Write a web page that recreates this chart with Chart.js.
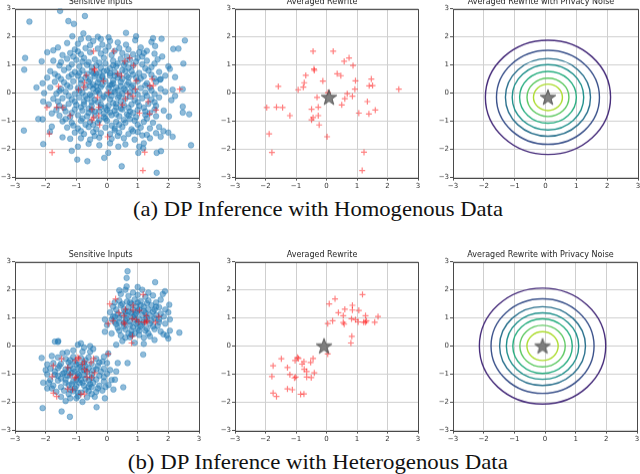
<!DOCTYPE html>
<html lang="en">
<head>
<meta charset="UTF-8">
<title>DP Inference</title>
<script src="https://cdn.jsdelivr.net/npm/chart.js"></script>
<style>
  body { margin: 0; background: #fff; width: 640px; height: 474px; overflow: hidden; position: relative; }
  .panel { position: absolute; }
  .caption { position: absolute; left: 0; width: 636px; text-align: center; font-family: "Liberation Serif", serif; font-size: 21px; line-height: 23px; color: #111; white-space: nowrap; }
  .caption span { display: inline-block; transform-origin: center; }
</style>
</head>
<body>
<div class="caption" id="capA" style="top:198px"><span>(a) DP Inference with Homogenous Data</span></div>
<div class="caption" id="capB" style="top:451px"><span>(b) DP Inference with Heterogenous Data</span></div>

<script>
// ---- data ----
const tickValues = [-3, -2, -1, 0, 1, 2, 3];
const titles = ['Sensitive Inputs', 'Averaged Rewrite', 'Averaged Rewrite with Privacy Noise'];

// (a) homogenous: sensitive inputs
const blueHomog = [
  [-1.53,2.92],[-2.53,2.54],[-0.72,2.74],[-1.26,2.56],[-1.08,2.46],[0.62,2.14],[-1.13,2.02],[-0.77,2.12],
  [2.54,1.87],[2.16,1.57],[2.33,1.58],[1.57,1.67],[1.78,1.93],[-1.75,1.52],[-2.67,1.25],[-2.13,1.13],
  [-2.70,0.83],[2.49,1.05],[2.05,0.86],[2.22,0.57],[1.73,0.48],[2.14,0.12],[2.47,0.14],[2.22,-0.10],
  [2.47,-0.48],[2.68,-0.75],[2.47,-0.69],[2.02,-0.83],[-2.08,-0.30],[-2.24,-0.92],[-2.10,-0.93],[-2.71,-1.33],
  [-2.08,-1.81],[-1.80,-1.19],[-1.86,-1.37],[-1.45,-1.57],[-1.15,-2.05],[-0.97,-2.36],[-0.64,-2.42],[-0.09,-2.30],
  [0.04,-2.12],[0.48,-2.60],[1.62,-2.12],[1.76,-2.06],[1.05,-1.90],[1.18,-1.96],[2.14,-1.55],[2.74,-1.85],
  [1.62,-2.83],[0.37,-1.90],[1.02,-2.12],[2.00,-1.40],[1.84,-1.35],
  [-0.6,1.95],[-0.3,2.0],[0.05,1.98],[-0.85,1.92],[0.95,2.02],[1.5,1.95],
  [-1.3,1.78],[-0.45,1.85],[-0.2,1.92],[0.1,1.85],[0.35,1.8],[0.92,1.88],[1.45,1.82],[-0.95,1.75],
  [-1.6,1.62],[-1.05,1.55],[-0.7,1.6],[-0.3,1.58],[0.05,1.65],[0.4,1.6],[0.7,1.55],[1.1,1.62],[1.3,1.5],[-1.95,1.45],
  [-1.45,1.35],[-1.2,1.42],[-0.85,1.38],[-0.55,1.45],[-0.2,1.4],[0.15,1.35],[0.5,1.42],[0.85,1.38],[1.15,1.3],[1.55,1.4],[1.8,1.3],[-0.05,1.5],
  [-1.75,1.15],[-1.3,1.22],[-1.0,1.18],[-0.75,1.25],[-0.4,1.2],[-0.1,1.25],[0.2,1.15],[0.45,1.22],[0.75,1.18],[1.0,1.25],[1.3,1.15],[1.65,1.2],[-0.6,1.1],[0.6,1.08],
  [-1.55,0.98],[-1.15,1.02],[-0.9,0.95],[-0.65,1.0],[-0.35,0.98],[-0.05,1.05],[0.3,0.95],[0.55,1.0],[0.85,0.98],[1.15,1.02],[1.45,0.92],[2.0,0.95],[-0.2,0.9],[0.1,0.88],
  [-1.85,0.78],[-1.4,0.82],[-1.05,0.75],[-0.8,0.8],[-0.5,0.78],[-0.25,0.72],[0.0,0.8],[0.25,0.75],[0.5,0.82],[0.8,0.78],[1.05,0.72],[1.35,0.8],[1.7,0.75],[-0.65,0.68],[0.4,0.65],
  [-1.95,0.55],[-1.6,0.6],[-1.25,0.58],[-0.95,0.62],[-0.7,0.55],[-0.4,0.6],[-0.15,0.55],[0.1,0.62],[0.35,0.55],[0.65,0.6],[0.95,0.55],[1.2,0.6],[1.55,0.52],[1.9,0.62],[-0.55,0.48],[0.2,0.45],
  [-2.1,0.35],[-1.7,0.4],[-1.4,0.38],[-1.1,0.42],[-0.85,0.35],[-0.6,0.4],[-0.3,0.38],[-0.05,0.42],[0.2,0.35],[0.45,0.4],[0.7,0.38],[1.0,0.42],[1.3,0.35],[1.6,0.4],[-0.45,0.3],[0.85,0.28],
  [-1.85,0.2],[-1.5,0.15],[-1.2,0.22],[-0.95,0.18],[-0.7,0.2],[-0.45,0.15],[-0.2,0.22],[0.05,0.18],[0.3,0.2],[0.55,0.15],[0.8,0.22],[1.1,0.18],[1.4,0.2],[1.75,0.15],[-0.3,0.1],[0.15,0.05],
  [-2.05,0.0],[-1.65,-0.02],[-1.35,0.05],[-1.05,-0.03],[-0.8,0.02],[-0.55,-0.05],[-0.25,0.0],[0.0,-0.03],[0.25,0.05],[0.5,-0.02],[0.75,0.03],[1.0,-0.05],[1.25,0.02],[1.55,-0.03],[1.9,0.05],[-0.1,-0.12],[0.4,-0.1],
  [-1.75,-0.2],[-1.45,-0.18],[-1.15,-0.22],[-0.9,-0.15],[-0.65,-0.2],[-0.4,-0.25],[-0.15,-0.18],[0.1,-0.22],[0.35,-0.15],[0.6,-0.2],[0.9,-0.25],[1.15,-0.18],[1.45,-0.22],[1.7,-0.15],[-0.3,-0.32],[0.2,-0.35],
  [-1.9,-0.4],[-1.55,-0.45],[-1.25,-0.38],[-1.0,-0.42],[-0.75,-0.4],[-0.5,-0.45],[-0.2,-0.4],[0.05,-0.45],[0.3,-0.38],[0.55,-0.42],[0.8,-0.4],[1.05,-0.45],[1.35,-0.38],[1.6,-0.45],[-0.6,-0.55],[0.45,-0.55],
  [-1.65,-0.6],[-1.35,-0.65],[-1.05,-0.58],[-0.8,-0.62],[-0.5,-0.6],[-0.25,-0.65],[0.0,-0.6],[0.25,-0.62],[0.5,-0.58],[0.75,-0.65],[1.0,-0.6],[1.25,-0.65],[1.55,-0.58],[1.85,-0.62],[-0.1,-0.72],[0.65,-0.75],
  [-1.55,-0.8],[-1.2,-0.85],[-0.95,-0.78],[-0.65,-0.82],[-0.4,-0.8],[-0.1,-0.85],[0.15,-0.78],[0.4,-0.82],[0.7,-0.8],[0.95,-0.85],[1.25,-0.78],[1.6,-0.82],[-0.25,-0.95],[0.55,-0.95],
  [-1.45,-1.0],[-1.15,-1.05],[-0.85,-0.98],[-0.55,-1.02],[-0.3,-1.05],[0.0,-0.98],[0.3,-1.02],[0.6,-1.05],[0.9,-0.98],[1.2,-1.02],[1.5,-1.05],[-0.7,-1.12],[0.15,-1.15],
  [-1.3,-1.22],[-0.95,-1.25],[-0.6,-1.2],[-0.35,-1.28],[-0.05,-1.22],[0.25,-1.25],[0.5,-1.2],[0.8,-1.28],[1.1,-1.22],[1.4,-1.25],[1.7,-1.2],
  [-1.05,-1.4],[-0.75,-1.45],[-0.45,-1.38],[-0.2,-1.42],[0.1,-1.45],[0.4,-1.4],[0.7,-1.45],[1.0,-1.38],[1.3,-1.48],[1.6,-1.42],
  [-1.2,-1.62],[-0.85,-1.6],[-0.55,-1.65],[-0.25,-1.58],[0.15,-1.62],[0.55,-1.6],[0.9,-1.65],[1.4,-1.6],[1.75,-1.55],
  [-0.6,-1.8],[-0.25,-1.85],[0.1,-1.78],[0.6,-1.82],[1.2,-1.78],[-0.95,-1.9],
  [-0.35,0.25],[0.15,0.3],[-0.5,-0.1],[0.6,0.1],[-0.15,0.6],[0.3,-0.5],[-0.45,0.7],[0.7,0.55],[-0.75,-0.3],[0.1,0.7],[-0.2,-0.5],[0.45,0.25],
  [-0.95,1.48],[-0.15,1.72],[0.62,1.72],[1.05,1.45],[-1.5,1.1],[-0.25,1.08],[0.35,1.05],[0.95,1.12],[1.55,1.05],
  [-1.25,0.9],[-0.5,0.92],[0.2,0.98],[0.7,0.9],[1.25,0.88],[-1.7,0.68],[-1.15,0.66],[-0.35,0.68],[0.25,0.62],[0.85,0.66],[1.45,0.65],
  [-1.5,0.5],[-0.85,0.48],[-0.25,0.48],[0.5,0.5],[1.1,0.52],[1.75,0.5],[-1.3,0.28],[-0.55,0.25],[0.1,0.28],[0.65,0.3],[1.25,0.28],[-2.3,0.2],
  [-1.55,0.08],[-0.9,0.08],[-0.35,0.05],[0.35,0.1],[0.9,0.08],[1.45,0.1],[2.1,-0.25],[-1.25,-0.1],[-0.7,-0.1],[0.15,-0.1],[0.75,-0.12],[1.3,-0.1],
  [-1.6,-0.3],[-1.05,-0.3],[-0.5,-0.32],[0.45,-0.3],[1.0,-0.32],[1.55,-0.32],[-1.4,-0.52],[-0.85,-0.5],[-0.05,-0.52],[0.7,-0.52],[1.2,-0.52],
  [-1.8,-0.72],[-1.15,-0.7],[-0.6,-0.7],[0.1,-0.68],[0.85,-0.7],[1.4,-0.7],[-1.35,-0.92],[-0.8,-0.9],[-0.05,-0.9],[0.75,-0.92],[1.3,-0.9],
  [-1.1,-1.15],[-0.45,-1.12],[0.4,-1.12],[1.0,-1.12],[-0.85,-1.35],[0.25,-1.32],[0.85,-1.35],[-0.4,-1.52],[0.35,-1.52],[1.15,-1.5],
  [-0.55,1.7],[0.25,1.5],[-1.1,1.3],[0.65,1.3],[-0.8,1.12],[1.2,1.42],[-0.1,0.78],[0.6,0.78],[-0.9,0.72],[-0.15,0.3],[0.3,-0.75],[-0.4,-0.65]
];
// (a) homogenous: rewrites (red crosses)
const redHomog = [
  [-0.44,1.49],[0.22,1.49],[0.74,1.25],[0.58,1.13],[0.87,0.98],[-0.41,0.86],[-0.40,0.81],[-0.68,0.63],
  [0.35,0.69],[0.47,0.62],[-0.12,0.43],[-0.73,0.37],[0.95,0.44],[1.47,0.50],[-1.58,0.24],[-0.76,0.21],
  [-0.93,0.12],[1.40,0.26],[1.51,0.27],[2.37,0.14],[0.93,0.14],[0.05,0.02],[0.68,-0.02],[0.60,-0.20],
  [0.85,-0.11],[-0.31,-0.15],[1.34,-0.30],[-1.96,-0.51],[-1.64,-0.50],[-1.44,-0.51],[-0.27,-0.50],[0.50,-0.42],
  [-0.49,-0.57],[1.60,-0.60],[-1.20,-0.80],[-0.27,-0.80],[1.06,-0.71],[1.39,-0.74],[-0.44,-0.87],[-0.49,-0.95],
  [-0.24,-1.13],[-1.88,-1.45],[0.02,-1.55],[-1.79,-2.11],[1.23,-2.10],[1.17,-2.75]
];
const starHomog = [[0.08, -0.15]];
const ringRadiiHomog = [2.03, 1.67, 1.38, 1.16, 0.92, 0.68, 0.47];

// (b) heterogenous: sensitive inputs
const blueHetero = [
  // upper-right cluster
  [0.7,1.78],[1.0,1.82],[1.25,1.75],[1.5,1.8],[0.85,1.9],[1.15,2.0],[0.6,2.0],
  [0.4,1.62],[0.65,1.58],[0.9,1.65],[1.1,1.6],[1.35,1.62],[1.6,1.55],[1.75,1.65],[0.25,1.55],
  [0.2,1.4],[0.45,1.45],[0.7,1.38],[0.95,1.42],[1.2,1.4],[1.45,1.45],[1.7,1.38],[0.55,1.3],[1.05,1.3],
  [0.1,1.2],[0.35,1.15],[0.6,1.22],[0.8,1.18],[1.0,1.25],[1.25,1.18],[1.5,1.22],[1.75,1.15],[2.0,1.2],[0.5,1.1],[1.15,1.1],
  [0.15,0.95],[0.4,1.0],[0.65,0.98],[0.85,1.05],[1.05,0.95],[1.3,1.02],[1.55,0.98],[1.85,1.05],[2.05,0.95],[0.75,0.88],[1.2,0.85],
  [0.3,0.78],[0.55,0.82],[0.75,0.75],[0.95,0.8],[1.15,0.75],[1.4,0.8],[1.65,0.72],[1.9,0.8],[0.85,0.68],[1.3,0.62],
  [0.4,0.55],[0.6,0.6],[0.8,0.55],[1.0,0.62],[1.25,0.55],[1.55,0.6],[1.75,0.52],[2.05,0.55],[0.7,0.45],
  [0.15,0.45],[0.45,0.38],[0.75,0.32],[1.05,0.4],[1.4,0.35],[1.95,0.38],
  [0.5,0.18],[0.9,0.12],[1.2,0.08],[0.3,0.05],[1.55,0.22],
  [0.95,1.15],[1.1,1.45],[0.85,1.3],[1.35,1.3],[0.65,1.1],[1.45,0.9],[0.55,0.7],[1.6,1.4],[1.1,0.7],[0.9,0.95],[1.25,0.95],[0.75,1.55],
  [0.8,1.5],[1.3,1.52],[0.5,1.5],[1.55,1.3],[0.3,1.3],[0.9,1.1],[1.4,1.1],[0.2,1.05],[1.7,0.95],[0.6,0.9],
  [1.0,0.85],[1.5,0.7],[0.35,0.65],[0.9,0.45],[1.2,0.3],[0.6,0.3],[1.7,0.85],[1.9,1.3],[0.45,1.85],[1.35,1.9],
  [1.0,1.55],[0.7,1.22],[1.2,1.25],[0.25,0.85],[1.6,1.1],[1.05,0.55],[0.4,0.85],[0.8,0.4],[1.35,0.45],[1.0,2.1],
  [0.67,2.66],[0.64,2.42],[0.64,2.12],[1.57,2.27],[1.89,1.95],[1.82,1.85],[2.03,1.47],[2.36,0.48],
  [2.0,0.27],[1.84,0.42],[1.18,-0.30],[0.67,-0.60],[0.0,0.75],[0.26,1.05],[-0.07,0.95],[-0.07,0.51],[0.4,1.98],
  // lower-left cluster
  [-1.1,-0.15],[-0.75,-0.05],[-0.45,-0.1],[-0.95,0.05],[-0.55,-0.2],[-1.3,-0.22],[-1.6,0.15],
  [-1.6,-0.4],[-1.35,-0.45],[-1.1,-0.38],[-0.85,-0.42],[-0.6,-0.4],[-0.35,-0.45],[-0.1,-0.38],[-1.8,-0.35],
  [-1.75,-0.6],[-1.5,-0.62],[-1.25,-0.58],[-1.0,-0.65],[-0.75,-0.6],[-0.5,-0.62],[-0.25,-0.58],[0.0,-0.6],[-1.95,-0.65],
  [-1.85,-0.8],[-1.6,-0.78],[-1.35,-0.82],[-1.1,-0.8],[-0.85,-0.85],[-0.6,-0.78],[-0.35,-0.82],[-0.1,-0.8],[0.1,-0.85],[-1.2,-0.7],[-0.7,-0.7],
  [-1.95,-1.0],[-1.7,-1.02],[-1.45,-0.98],[-1.2,-1.05],[-0.95,-0.98],[-0.75,-1.02],[-0.5,-1.0],[-0.25,-1.05],[0.0,-0.98],[-1.05,-0.9],[-0.65,-0.92],
  [-1.85,-1.2],[-1.6,-1.22],[-1.35,-1.18],[-1.1,-1.25],[-0.85,-1.2],[-0.6,-1.22],[-0.35,-1.18],[-0.1,-1.25],[0.15,-1.2],[-0.95,-1.1],[-0.5,-1.12],
  [-1.75,-1.4],[-1.5,-1.45],[-1.25,-1.38],[-1.0,-1.42],[-0.75,-1.4],[-0.5,-1.45],[-0.25,-1.4],[0.05,-1.38],[-0.9,-1.3],
  [-1.65,-1.62],[-1.4,-1.58],[-1.1,-1.6],[-0.85,-1.65],[-0.6,-1.6],[-0.35,-1.62],[-0.15,-1.58],
  [-1.5,-1.8],[-1.2,-1.85],[-0.95,-1.78],[-0.65,-1.82],[-0.4,-1.8],[-1.35,-1.95],[-0.8,-1.98],
  [-1.0,-1.2],[-1.15,-0.95],[-0.8,-1.3],[-1.3,-1.05],[-0.7,-1.15],[-0.9,-0.75],[-1.05,-1.5],[-1.5,-1.15],[-0.45,-0.85],[-1.25,-0.85],[-0.6,-1.45],[-0.95,-1.65],
  [-1.2,-0.5],[-0.7,-0.5],[-1.55,-0.7],[-0.3,-0.7],[-1.7,-0.9],[-0.9,-0.65],[-0.2,-0.9],[-1.35,-1.3],[-0.45,-1.3],[-0.1,-1.1],
  [-1.6,-1.05],[-1.15,-1.35],[-0.7,-1.55],[-1.25,-1.7],[-0.5,-1.7],[-1.8,-1.5],[-0.3,-1.5],[-1.0,-1.85],[-0.15,-0.55],[-0.8,-0.2],
  [-1.45,-0.25],[-2.0,-0.85],[-1.9,-1.3],[-0.05,-1.45],[-1.05,-0.55],[-0.55,-1.35],[-1.4,-0.95],[-0.75,-0.85],[-1.2,-1.55],[-0.9,-1.05],
  [-1.59,0.18],[-1.70,0.16],[-2.13,-0.42],[-2.10,-2.20],[-1.21,-2.51],[-1.48,-2.32],[-2.08,-1.30],[0.04,-0.26],
  [0.53,-1.46],[0.26,-1.19],[0.21,-1.54],[-0.07,-1.85],[-0.34,-2.17],[-0.55,0.0],[-0.85,0.1],[-1.95,-1.5],[0.3,-0.9],[0.35,-0.6]
];
// (b) heterogenous: rewrites (red crosses)
const redHetero = [
  [1.18,1.83],[0.28,1.68],[0.09,1.50],[0.39,1.19],[0.60,1.31],[0.85,1.45],[1.06,1.27],[0.85,1.28],
  [0.55,1.08],[1.28,1.08],[1.69,1.05],[0.82,0.97],[0.95,0.94],[1.04,0.86],[1.22,0.85],[1.31,0.90],
  [1.28,0.85],[1.58,0.85],[0.55,0.84],[0.58,0.78],[0.20,0.90],[0.04,0.80],[0.83,0.35],[0.80,0.11],
  [0.04,-0.28],[-0.44,-0.44],[-0.95,-0.40],[-0.92,-0.44],[-1.48,-0.45],[-1.03,-0.51],[-0.74,-0.55],[-0.80,-0.64],
  [-0.52,-0.58],[-1.75,-0.70],[-1.28,-0.76],[-0.73,-0.82],[-0.65,-0.90],[-0.40,-0.95],[-1.20,-1.01],[-1.79,-1.08],
  [-1.01,-1.10],[-1.05,-1.13],[-0.65,-1.10],[-0.50,-1.12],[-1.28,-1.52],[-1.12,-1.55],[-1.75,-1.67],[-1.64,-1.79],
  [-0.85,-1.71],[-0.74,-1.70]
];
const starHetero = [[-0.08, 0.0]];
const ringRadiiHetero = [2.06, 1.68, 1.40, 1.18, 0.97, 0.74, 0.51];

// contour colours, outer to inner (viridis)
const ringColors = ['#472d7b', '#3b528b', '#2c728e', '#21918c', '#28ae80', '#5ec962', '#addc30'];

// ---- drawing helpers ----
const toPts = arr => arr.map(p => ({ x: p[0], y: p[1] }));
const fmt = v => (v < 0 ? '\u2212' + Math.abs(v) : String(v));

function makeStar() {
  const c = document.createElement('canvas');
  c.width = 18; c.height = 18;
  const g = c.getContext('2d');
  g.beginPath();
  for (let i = 0; i < 10; i++) {
    const r = i % 2 ? 3.3 : 8.2;
    const a = -Math.PI / 2 + i * Math.PI / 5;
    g.lineTo(9 + r * Math.cos(a), 9.5 + r * Math.sin(a));
  }
  g.closePath();
  g.fillStyle = 'rgba(105,105,105,0.85)';
  g.fill();
  g.strokeStyle = 'rgba(60,60,60,0.9)';
  g.lineWidth = 0.8;
  g.stroke();
  return c;
}
const starImg = makeStar();

const framePlugin = {
  id: 'frame',
  beforeDatasetsDraw(chart, args, opts) {
    if (!opts.radii) return;
    const { ctx, chartArea: a } = chart;
    const xs = chart.scales.x, ys = chart.scales.y;
    const cx = xs.getPixelForValue(opts.center[0]);
    const cy = ys.getPixelForValue(opts.center[1]);
    ctx.save();
    ctx.beginPath();
    ctx.rect(a.left, a.top, a.right - a.left, a.bottom - a.top);
    ctx.clip();
    ctx.lineWidth = 1.4;
    opts.radii.forEach((r, i) => {
      const rx = xs.getPixelForValue(opts.center[0] + r) - cx;
      const ry = cy - ys.getPixelForValue(opts.center[1] + r);
      ctx.strokeStyle = opts.colors[i];
      ctx.beginPath();
      ctx.ellipse(cx, cy, rx, ry, 0, 0, Math.PI * 2);
      ctx.stroke();
    });
    ctx.restore();
  },
  afterDraw(chart) {
    const { ctx, chartArea: a } = chart;
    ctx.save();
    ctx.strokeStyle = '#4a4a4a';
    ctx.lineWidth = 1;
    ctx.strokeRect(Math.round(a.left) + 0.5, Math.round(a.top) + 0.5, Math.round(a.right - a.left), Math.round(a.bottom - a.top));
    ctx.restore();
  }
};

function axis(which) {
  return {
    type: 'linear', min: -3, max: 3,
    afterBuildTicks: s => { s.ticks = tickValues.map(v => ({ value: v })); },
    afterFit: s => { if (which === 'x') s.height = 12; else s.width = 15; },
    ticks: { font: { family: 'DejaVu Sans', size: 7 }, color: '#333', padding: 1, maxRotation: 0, autoSkip: false, callback: fmt },
    grid: { color: '#cfcfcf', lineWidth: 1, tickLength: 3, tickColor: '#555' },
    border: { display: false }
  };
}

const blueSet = pts => ({ data: toPts(pts), pointRadius: 2.8, backgroundColor: 'rgba(31,119,180,0.5)', borderColor: 'rgba(31,119,180,0.5)', borderWidth: 0.8 });
const redSet = pts => ({ data: toPts(pts), pointStyle: 'cross', pointRadius: 3, borderColor: 'rgba(255,0,0,0.5)', borderWidth: 1.2 });
const starSet = pts => ({ data: toPts(pts), pointStyle: starImg, pointRadius: 8 });

// box = [left, top, right, bottom] of the plotting area in page pixels
const panels = [
  { box: [15, 9, 199, 177], title: titles[0], sets: [redSet(redHomog), blueSet(blueHomog)] },
  { box: [235, 9, 418, 177], title: titles[1], sets: [starSet(starHomog), redSet(redHomog)] },
  { box: [453, 9, 638, 177], title: titles[2], sets: [starSet(starHomog)], rings: { center: starHomog[0], radii: ringRadiiHomog, colors: ringColors } },
  { box: [15, 262, 199, 430], title: titles[0], sets: [redSet(redHetero), blueSet(blueHetero)] },
  { box: [235, 262, 418, 430], title: titles[1], sets: [starSet(starHetero), redSet(redHetero)] },
  { box: [453, 262, 637, 430], title: titles[2], sets: [starSet(starHetero)], rings: { center: starHetero[0], radii: ringRadiiHetero, colors: ringColors } }
];

panels.forEach(p => {
  const [l, t, r, b] = p.box;
  const div = document.createElement('div');
  div.className = 'panel';
  const canvas = document.createElement('canvas');
  let w = (r - l) + 22, h = (b - t) + 26;
  canvas.width = w; canvas.height = h;
  canvas.style.width = w + 'px'; canvas.style.height = h + 'px';
  div.appendChild(canvas);
  document.body.appendChild(div);

  const chart = new Chart(canvas, {
    type: 'scatter',
    data: { datasets: p.sets },
    options: {
      responsive: false, maintainAspectRatio: false, animation: false,
      layout: { padding: { left: 0, right: 3, top: 0, bottom: 0 } },
      plugins: {
        legend: { display: false },
        tooltip: { enabled: false },
        title: { display: true, text: p.title, font: { family: 'DejaVu Sans', size: 8, weight: 'normal' }, color: '#222', padding: { top: 0, bottom: 2 } },
        frame: p.rings || {}
      },
      scales: { x: axis('x'), y: axis('y') }
    },
    plugins: [framePlugin]
  });

  // adjust canvas so the plotting area has the reference size, then place it
  const a0 = chart.chartArea;
  w += (r - l) - (a0.right - a0.left);
  h += (b - t) - (a0.bottom - a0.top);
  chart.resize(w, h);
  const a = chart.chartArea;
  div.style.left = (l - a.left) + 'px';
  div.style.top = (t - a.top) + 'px';
});

// fit captions to the reference width
[['capA', 370], ['capB', 380]].forEach(([id, target]) => {
  const span = document.querySelector('#' + id + ' span');
  span.style.transform = 'scaleX(' + (target / span.getBoundingClientRect().width) + ')';
});
</script>
</body>
</html>
